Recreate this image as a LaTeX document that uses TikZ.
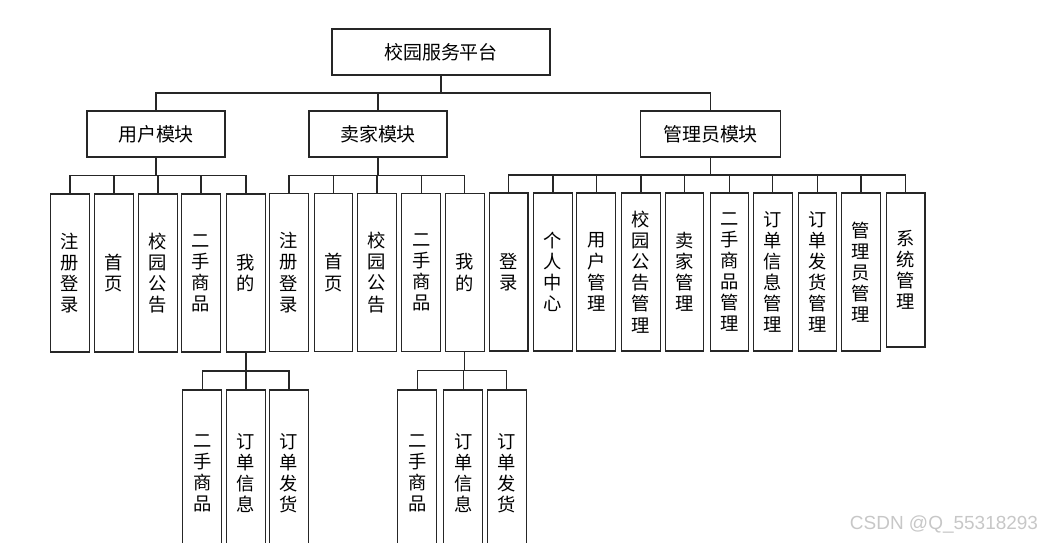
\documentclass[tikz,border=0pt]{standalone}
\usepackage{fontspec}
\setmainfont{Noto Sans CJK SC}
\newfontfamily\markfont{Liberation Sans}
\usetikzlibrary{calc}

\tikzset{
  box/.style={draw=black!85, line width=0.8pt, inner sep=0pt,
    minimum width=5.45cm, minimum height=1.15cm,
    font=\fontsize{13.5}{16}\selectfont},
  modbox/.style={box, minimum width=3.45cm},
  leaf/.style={draw=black!85, line width=0.8pt, inner sep=0pt, align=center,
    minimum width=0.97cm, minimum height=3.95cm,
    font=\fontsize{13}{15}\selectfont},
  subleaf/.style={leaf, minimum height=4.15cm},
  fork/.style={to path={|- ($(\tikztostart)!.5!(\tikztotarget)$) -| (\tikztotarget)}},
  link/.style={draw=black!85, line width=0.8pt}
}

\begin{document}
\begin{tikzpicture}[x=0.025cm,y=-0.025cm]
  \useasboundingbox (0,0) rectangle (1043,542);
  \clip (0,0) rectangle (1043,542);

  % --- root and modules ---
  \node[box] (root) at (441,52) {校园服务平台};
  \node[modbox] (user) at (156,134) {用户模块};
  \node[modbox] (seller) at (378,134) {卖家模块};
  \node[modbox, minimum width=3.48cm] (admin) at (710.5,134) {管理员模块};
  \foreach \m in {user,seller,admin}
    \draw[link] (root.south) to[fork] (\m.north);

  % --- user module ---
  \foreach \i/\x/\t in {1/70/{注\\册\\登\\录}, 2/114/{首\\页}, 3/158/{校\\园\\公\\告},
      4/201/{二\\手\\商\\品}, 5/246/{我\\的}} {
    \node[leaf] (u\i) at (\x,273) {\t};
    \draw[link] (user.south) to[fork] (u\i.north);
  }

  % --- seller module ---
  \foreach \i/\x/\t in {1/289/{注\\册\\登\\录}, 2/333.5/{首\\页}, 3/377/{校\\园\\公\\告},
      4/421.3/{二\\手\\商\\品}, 5/464.8/{我\\的}} {
    \node[leaf] (s\i) at (\x,272.5) {\t};
    \draw[link] (seller.south) to[fork] (s\i.north);
  }

  % --- admin module ---
  \foreach \i/\x/\t in {1/508.6/{登\\录}, 2/553/{个\\人\\中\\心}, 3/596.3/{用\\户\\管\\理},
      4/641/{校\\园\\公\\告\\管\\理}, 5/684.5/{卖\\家\\管\\理}, 6/729.5/{二\\手\\商\\品\\管\\理},
      7/772.8/{订\\单\\信\\息\\管\\理}, 8/817.5/{订\\单\\发\\货\\管\\理},
      9/861/{管\\理\\员\\管\\理}} {
    \node[leaf] (a\i) at (\x,272) {\t};
    \draw[link] (admin.south) to[fork] (a\i.north);
  }
  \node[leaf, minimum height=3.85cm] (a10) at (905.6,270) {系\\统\\管\\理};
  \draw[link] (admin.south) to[fork] (a10.north);

  % --- "mine" under user ---
  \foreach \i/\x/\t in {1/202.3/{二\\手\\商\\品}, 2/246/{订\\单\\信\\息}, 3/289/{订\\单\\发\\货}} {
    \node[subleaf] (um\i) at (\x,473) {\t};
    \draw[link] (u5.south) to[fork] (um\i.north);
  }

  % --- "mine" under seller ---
  \foreach \i/\x/\t in {1/417.2/{二\\手\\商\\品}, 2/463.2/{订\\单\\信\\息}, 3/506.8/{订\\单\\发\\货}} {
    \node[subleaf] (sm\i) at (\x,473) {\t};
    \draw[link] (s5.south) to[fork] (sm\i.north);
  }

  \node[font=\markfont\fontsize{13.5}{16}\selectfont, text=black!22] (mark) at (944,524) {CSDN @Q\_55318293};
\end{tikzpicture}
\end{document}
